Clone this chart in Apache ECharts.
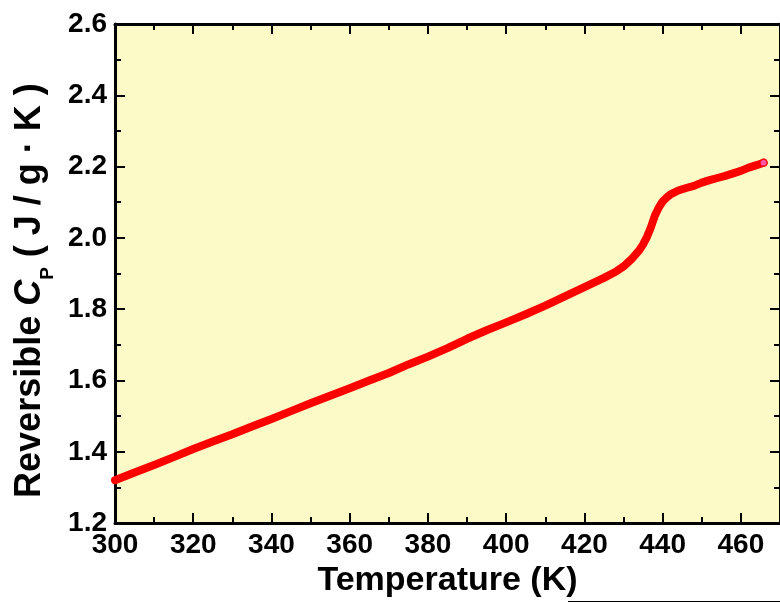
<!DOCTYPE html>
<html>
<head>
<meta charset="utf-8">
<script src="https://cdn.jsdelivr.net/npm/echarts@6/dist/echarts.min.js"></script>
<style>
  html, body { margin: 0; padding: 0; background: #ffffff; }
  #chart { width: 780px; height: 603px; }
</style>
</head>
<body>
<div id="chart"></div>
<script>
// Reversible heat capacity scan (K vs J/g·K)
const temperature = [300, 305, 310, 315, 320, 325, 330, 335, 340, 345, 350, 355, 360, 365, 370, 375,
  380, 385, 390, 395, 400, 405, 410, 415, 420, 425, 428, 430, 432, 434, 435, 436, 437, 438, 439,
  440, 441, 442, 444, 446, 448, 450, 452, 454, 456, 458, 460, 462, 464, 465.8];
const cp = [1.320, 1.342, 1.363, 1.385, 1.408, 1.429, 1.449, 1.471, 1.492, 1.514, 1.536, 1.557, 1.578,
  1.600, 1.621, 1.645, 1.667, 1.691, 1.717, 1.741, 1.763, 1.786, 1.810, 1.836, 1.862, 1.888, 1.905,
  1.920, 1.940, 1.965, 1.982, 2.003, 2.030, 2.062, 2.085, 2.102, 2.113, 2.122, 2.133, 2.140, 2.146,
  2.155, 2.162, 2.168, 2.174, 2.181, 2.188, 2.197, 2.204, 2.211];
const xTicks = { min: 300, max: 470, step: 20 };
const yTicks = { min: 1.2, max: 2.6, step: 0.2 };

const FONT = '"Liberation Sans", Arial, Helvetica, sans-serif';
const points = temperature.map((t, i) => [t, cp[i]]);
const last = points[points.length - 1];

const frameAxis = {
  axisLine: { show: true, onZero: false, lineStyle: { color: '#000', width: 3 } },
  axisTick: { show: true, inside: true, length: 10, lineStyle: { color: '#000', width: 2 } },
  minorTick: { show: true, splitNumber: 2, length: 6, lineStyle: { color: '#000', width: 2 } },
  splitLine: { show: false }
};

const chart = echarts.init(document.getElementById('chart'), null, { renderer: 'canvas' });
chart.setOption({
  animation: false,
  backgroundColor: '#ffffff',
  grid: {
    left: 115, top: 24, bottom: 79, right: -3,
    show: true, backgroundColor: '#fcfbc8', borderWidth: 0
  },
  xAxis: [
    Object.assign({
      type: 'value', position: 'bottom',
      min: xTicks.min, max: xTicks.max, interval: xTicks.step,
      name: 'Temperature (K)', nameLocation: 'middle', nameGap: 31,
      nameTextStyle: { fontFamily: FONT, fontWeight: 'bold', fontSize: 34, color: '#000' },
      axisLabel: {
        show: true, margin: 8, showMaxLabel: false,
        fontFamily: FONT, fontWeight: 'bold', fontSize: 28, color: '#000'
      }
    }, frameAxis),
    Object.assign({
      type: 'value', position: 'top',
      min: xTicks.min, max: xTicks.max, interval: xTicks.step,
      axisLabel: { show: false }
    }, frameAxis)
  ],
  yAxis: [
    Object.assign({
      type: 'value', position: 'left',
      min: yTicks.min, max: yTicks.max, interval: yTicks.step,
      name: '{n|Reversible }{i|C}{s|P}{n| ( J / g · K )}',
      nameLocation: 'middle', nameGap: 58, nameRotate: 90,
      nameTextStyle: {
        color: '#000',
        padding: [0, 34, 0, 0],
        rich: {
          n: { fontFamily: FONT, fontWeight: 'bold', fontSize: 36, color: '#000' },
          i: { fontFamily: FONT, fontWeight: 'bold', fontStyle: 'italic', fontSize: 36, color: '#000' },
          s: { fontFamily: FONT, fontWeight: 'bold', fontSize: 19, color: '#000', padding: [34, 0, 0, 0] }
        }
      },
      axisLabel: {
        show: true, margin: 8,
        fontFamily: FONT, fontWeight: 'bold', fontSize: 28, color: '#000',
        formatter: v => v.toFixed(1)
      }
    }, frameAxis),
    Object.assign({
      type: 'value', position: 'right',
      min: yTicks.min, max: yTicks.max, interval: yTicks.step,
      axisLabel: { show: false }
    }, frameAxis)
  ],
  series: [
    {
      type: 'line',
      data: points,
      showSymbol: false,
      symbol: 'none',
      lineStyle: { color: '#ff0000', width: 8, cap: 'round', join: 'round' },
      clip: true
    },
    {
      type: 'scatter',
      data: [last],
      symbol: 'circle',
      symbolSize: 7,
      itemStyle: { color: '#ff6fd0', borderColor: '#ff0000', borderWidth: 1.5 },
      z: 3
    }
  ],
  graphic: [
    {
      type: 'line',
      shape: { x1: 568, y1: 601.5, x2: 780, y2: 601.5 },
      style: { stroke: '#000', lineWidth: 1 },
      silent: true
    }
  ]
});
</script>
</body>
</html>
